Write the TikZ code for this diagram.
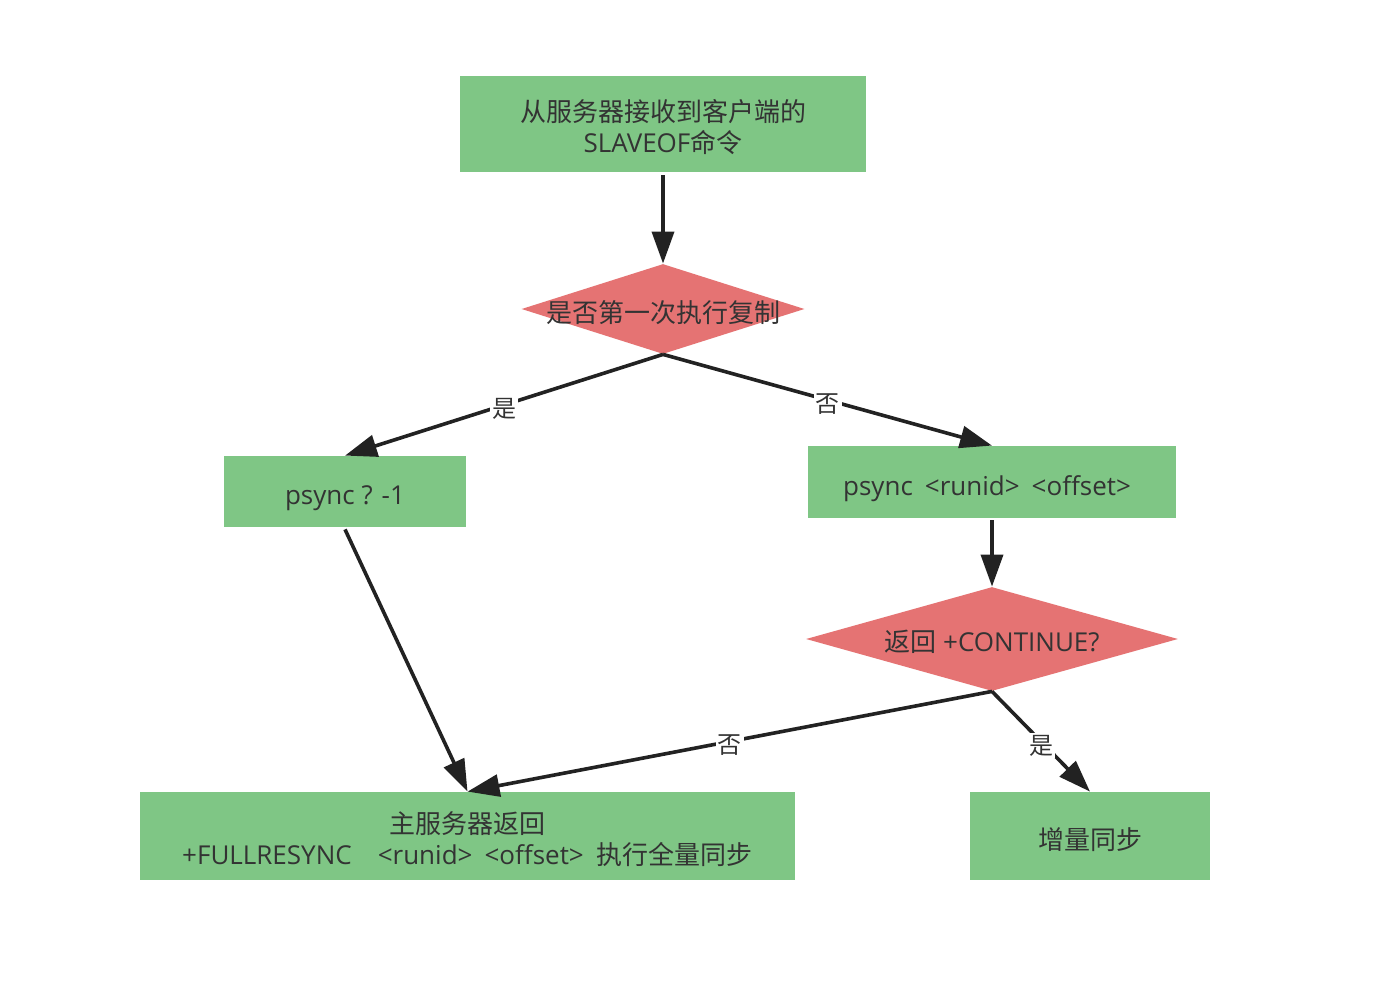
\documentclass[tikz,border=0pt]{standalone}
\usepackage{fontspec}
\setmainfont{Open Sans}
\newfontfamily\cjk{Noto Sans CJK SC}
\usetikzlibrary{shapes.geometric,arrows.meta}
\definecolor{boxgreen}{HTML}{7FC685}
\definecolor{diared}{HTML}{E57373}
\definecolor{txt}{HTML}{333333}
\definecolor{ln}{HTML}{222222}
\begin{document}
\begin{tikzpicture}[x=0.5pt,y=-0.5pt,
 box/.style={rectangle, fill=boxgreen, draw=none, inner sep=0pt},
 dia/.style={diamond, fill=diared, draw=none, inner sep=0pt},
 boxtext/.style={text=txt, inner sep=0pt, align=center, font=\fontsize{13pt}{15.5pt}\selectfont},
 conn/.style={draw=ln, line width=1.8pt, -{Triangle[length=16pt,width=11pt]}},
 lab/.style={fill=white, text=txt, inner sep=1pt, font=\fontsize{12pt}{14pt}\selectfont\cjk}]
\useasboundingbox[fill=white] (0,0) rectangle (1386,984);
\node[box, minimum width=203pt, minimum height=48pt] (b1) at (663,124) {};
\node[boxtext] (t1) at ([yshift=-1.5pt]b1.center) {{\cjk 从服务器接收到客户端的}\\SLAVEOF{\cjk 命令}};
\node[dia, minimum width=141.5pt, minimum height=45pt] (d1) at (663,309) {};
\node[boxtext] (t2) at ([yshift=-2pt]d1.center) {\cjk 是否第一次执行复制};
\node[box, minimum width=121pt, minimum height=35.5pt] (b2) at (345,491.5) {};
\node[boxtext] (t3) at ([yshift=-3.5pt]b2.center) {psync ? -1};
\node[box, minimum width=184pt, minimum height=36pt] (b3) at (992,482) {};
\node[boxtext] (t4) at ([xshift=-2.5pt,yshift=-3.5pt]b3.center) {psync\hspace{6pt}<runid>\hspace{6pt}<offset>};
\node[dia, minimum width=186pt, minimum height=52pt] (d2) at (992,639) {};
\node[boxtext] (t5) at ([yshift=-1.5pt]d2.center) {{\cjk 返回} +CONTINUE?};
\node[box, minimum width=327.5pt, minimum height=44pt] (b4) at (467.5,836) {};
\node[boxtext] (t6) at ([yshift=-1.5pt]b4.center) {{\cjk 主服务器返回}\\+FULLRESYNC\hspace{13pt}<runid>\hspace{6pt}<offset>\hspace{6.5pt}{\cjk 执行全量同步}};
\node[box, minimum width=120pt, minimum height=44pt] (b5) at (1090,836) {};
\node[boxtext] (t7) at ([yshift=-2pt]b5.center) {\cjk 增量同步};
\draw[conn] ([yshift=-1.5pt]b1.south) -- (d1.north);
\draw[conn] (d1.south) -- node[lab, yshift=-2pt] {是} (b2.north);
\draw[conn] (d1.south) -- node[lab, yshift=-2pt] {否} (b3.north);
\draw[conn] ([yshift=-1pt]b3.south) -- (d2.north);
\draw[conn] ([yshift=-1pt]b2.south) -- (b4.north);
\draw[conn] (d2.south) -- node[lab, yshift=-2pt] {否} (b4.north);
\draw[conn] (d2.south) -- node[lab, yshift=-2pt] {是} (b5.north);
\end{tikzpicture}
\end{document}
